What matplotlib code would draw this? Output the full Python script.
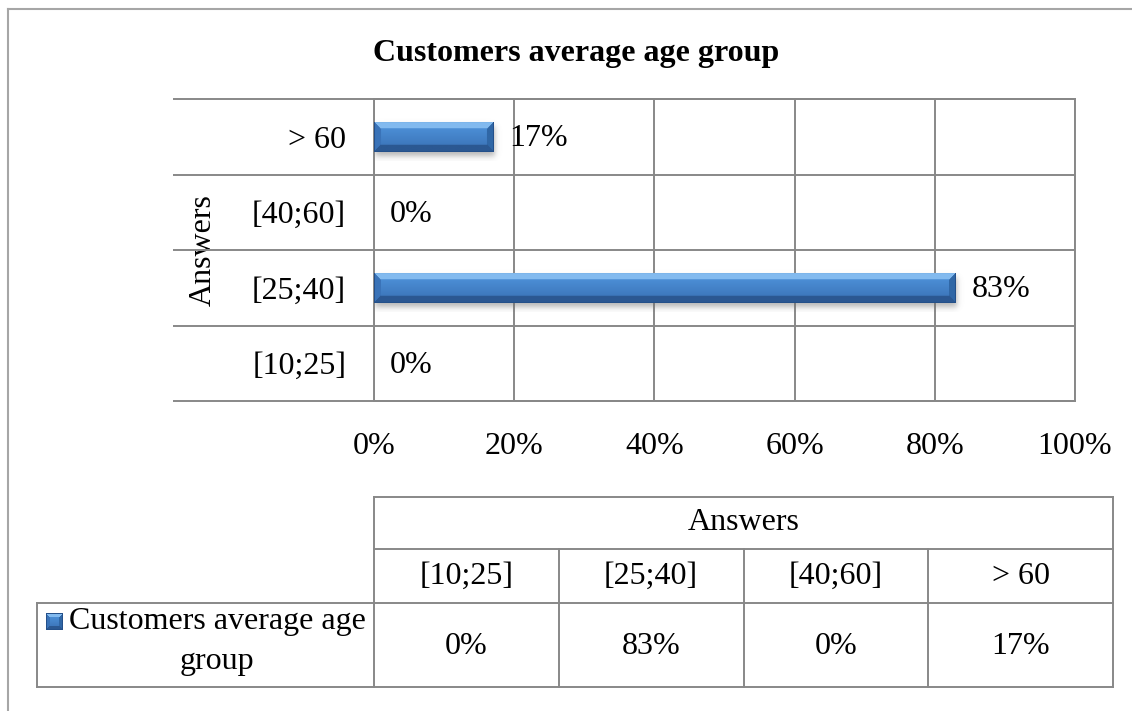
import numpy as np
import matplotlib
matplotlib.use("Agg")
import matplotlib.pyplot as plt
from matplotlib.colors import to_rgb

# ---- data -------------------------------------------------------------
categories = ["[10;25]", "[25;40]", "[40;60]", "> 60"]
shares = [0.0, 0.83, 0.0, 0.17]
x_ticks = [0.0, 0.2, 0.4, 0.6, 0.8, 1.0]
x_tick_labels = ["0%", "20%", "40%", "60%", "80%", "100%"]
chart_title = "Customers average age group"
series_name = "Customers average age group"
axis_title = "Answers"

# ---- figure / layout (pixel based) -------------------------------------
W, H = 1132, 711
plt.rcParams['font.family'] = ['Liberation Serif', 'DejaVu Serif']
fig = plt.figure(figsize=(W / 100, H / 100), dpi=100)

GRID = '#888888'
BORDER = '#a6a6a6'
FS = 23

PL, PR, PT, PB = 374, 1075, 99, 401
ax = fig.add_axes([PL / W, 1 - PB / H, (PR - PL) / W, (PB - PT) / H])
ov = fig.add_axes([0, 0, 1, 1], zorder=5)
ov.set_xlim(0, W)
ov.set_ylim(H, 0)
ov.axis('off')
ov.patch.set_visible(False)

px_x = 1.0 / (PR - PL)                 # data units per pixel (x)
n = len(categories)
px_y = n / (PB - PT)                   # data units per pixel (y)


def bevel_image(w_px, h_px, bevel=7):
    u = np.arange(w_px) + 0.5
    v = np.arange(h_px) + 0.5
    U, V = np.meshgrid(u, v)
    d = np.stack([V, h_px - V, U, w_px - U])
    side = d.argmin(axis=0)
    dmin = d.min(axis=0)
    t = (V / h_px)[..., None]
    top_c = np.array(to_rgb('#5197e0'))
    bot_c = np.array(to_rgb('#386fb2'))
    img = top_c * (1 - t) + bot_c * t
    edge = [np.array(to_rgb(c)) for c in ('#82baef', '#2b5892', '#3a73b8', '#3067a6')]
    for k in range(4):
        m = (side == k) & (dmin < bevel)
        img[m] = edge[k]
    # thin dark outline
    m = dmin < 1.0
    img[m] = np.array(to_rgb('#24508a'))
    return img


# ---- bars ---------------------------------------------------------------
bar_h = 0.4
bars = ax.barh(range(n), shares, height=bar_h, color='#4a86c8',
               edgecolor='none', zorder=3)

for i, (b, val) in enumerate(zip(bars, shares)):
    if val <= 0:
        continue
    w_px = max(int(round(val * (PR - PL))), 2)
    h_px = int(round(bar_h / px_y))
    # soft drop shadow, cast downwards
    pad = 9
    sw, sh = w_px + 2 * pad, h_px + 2 * pad
    uu = np.arange(sw) - pad + 0.5
    vv = np.arange(sh) - pad + 0.5
    sx = 1 / (1 + np.exp(-(uu - 1) / 1.6)) * 1 / (1 + np.exp(-(w_px + 1 - uu) / 1.6))
    sy = 1 / (1 + np.exp(-(vv - 5) / 1.6)) * 1 / (1 + np.exp(-(h_px + 4 - vv) / 1.8))
    alpha = np.outer(sy, sx) * 0.5
    shadow = np.zeros((sh, sw, 4))
    shadow[..., :3] = 0.42
    shadow[..., 3] = alpha
    ax.imshow(shadow, extent=(-pad * px_x, val + pad * px_x,
                              i - bar_h / 2 - pad * px_y, i + bar_h / 2 + pad * px_y),
              origin='upper', aspect='auto', interpolation='bilinear', zorder=2)
    img = bevel_image(w_px, h_px)
    im = ax.imshow(img, extent=(0, val, i - bar_h / 2, i + bar_h / 2),
                   origin='upper', aspect='auto', interpolation='bilinear', zorder=4)
    im.set_clip_path(b)

# value labels
for i, val in enumerate(shares):
    ax.annotate(f"{round(val * 100)}%", xy=(val, i), xytext=(16, -2),
                textcoords='offset pixels', ha='left', va='center',
                fontsize=FS, zorder=6)

ax.set_xlim(0, 1)
ax.set_ylim(-0.5, n - 0.5)
ax.set_xticks(x_ticks)
ax.set_xticklabels(x_tick_labels, fontsize=FS)
ax.set_yticks(range(n))
ax.set_yticklabels(categories, fontsize=FS)
ax.tick_params(axis='both', length=0)
ax.tick_params(axis='x', pad=22)
ax.tick_params(axis='y', pad=20)
ax.grid(axis='x', color=GRID, lw=1.4, zorder=1)
ax.set_axisbelow(True)
for s in ax.spines.values():
    s.set_color(GRID)
    s.set_linewidth(1.4)
ax.set_ylabel(axis_title, fontsize=FS, labelpad=0)
ax.yaxis.set_label_coords((218 - PL) / (PR - PL), 0.5)

# category separators running under the labels
ax.hlines(np.arange(n + 1) - 0.5, (173 - PL) / (PR - PL), 1,
          transform=ax.get_yaxis_transform(), color=GRID, lw=1.4,
          clip_on=False, zorder=1)

# ---- title & outer frame -------------------------------------------------
ov.text(576, 53, chart_title, ha='center', va='center',
        fontsize=23, fontweight='bold')
ov.plot([8, W], [9, 9], color=BORDER, lw=1.5)
ov.plot([8, 8], [9, H], color=BORDER, lw=1.5)

# ---- data table ----------------------------------------------------------
T_TOP, T_R1, T_R2, T_BOT = 497, 549, 603, 687
T_L, T_R, LEG_L = 374, 1113, 37
cols = np.linspace(T_L, T_R, n + 1)
lk = dict(color=GRID, lw=1.4)
ov.plot([T_L, T_R], [T_TOP, T_TOP], **lk)
ov.plot([T_L, T_R], [T_R1, T_R1], **lk)
ov.plot([LEG_L, T_R], [T_R2, T_R2], **lk)
ov.plot([LEG_L, T_R], [T_BOT, T_BOT], **lk)
ov.plot([T_L, T_L], [T_TOP, T_BOT], **lk)
ov.plot([T_R, T_R], [T_TOP, T_BOT], **lk)
ov.plot([LEG_L, LEG_L], [T_R2, T_BOT], **lk)
for c in cols[1:-1]:
    ov.plot([c, c], [T_R1, T_BOT], **lk)

ov.text((T_L + T_R) / 2, (T_TOP + T_R1) / 2, axis_title,
        ha='center', va='center', fontsize=FS)
for k, (cat, val) in enumerate(zip(categories, shares)):
    cx = (cols[k] + cols[k + 1]) / 2
    ov.text(cx, (T_R1 + T_R2) / 2, cat, ha='center', va='center', fontsize=FS)
    ov.text(cx, (T_R2 + T_BOT) / 2 + 1, f"{round(val * 100)}%",
            ha='center', va='center', fontsize=FS)

# legend key + series name
words = series_name.split()
ov.text(217, 622, " ".join(words[:-1]), ha='center', va='center', fontsize=FS)
ov.text(217, 661, words[-1], ha='center', va='center', fontsize=FS)
key = bevel_image(17, 17, bevel=4)
ov.imshow(key, extent=(46, 63, 630, 613), origin='upper',
          interpolation='bilinear', zorder=6)
ov.set_xlim(0, W)
ov.set_ylim(H, 0)

fig.savefig('out.png', dpi=100)
